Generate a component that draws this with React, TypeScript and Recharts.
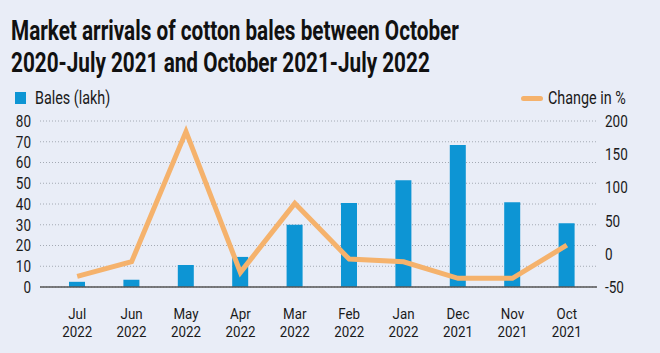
import { Bar, CartesianGrid, ComposedChart, Line, XAxis, YAxis } from "recharts";

const months = ["Jul", "Jun", "May", "Apr", "Mar", "Feb", "Jan", "Dec", "Nov", "Oct"];
const years = ["2022", "2022", "2022", "2022", "2022", "2022", "2022", "2021", "2021", "2021"];
const bales = [2.5, 3.5, 10.6, 14.5, 30, 40.5, 51.5, 68.4, 40.8, 30.7];
const changePct = [-34, -12, 184, -28, 76, -8, -12, -37, -37, 13];

const leftTicks = [0, 10, 20, 30, 40, 50, 60, 70, 80];
const rightTicks = [-50, 0, 50, 100, 150, 200];

const FONT = "'Roboto', 'DejaVu Sans', sans-serif";
const BG = "#e9edf7";
const BLUE = "#0d95d4";
const ORANGE = "#f5b26c";
const TEXT = "#1a1a1a";
// the reference uses a condensed face; squeeze Roboto horizontally
const SQUEEZE = 0.82;

const data = months.map((m, i) => ({
  key: `${m} ${years[i]}`,
  month: m,
  year: years[i],
  bales: bales[i],
  change: changePct[i],
}));

function MonthTick(props: any) {
  const { x, y, payload } = props;
  const row = data.find((d) => d.key === payload.value);
  return (
    <g transform={`translate(${x},${y}) scale(${SQUEEZE * 1.05},1)`}>
      <text x={0} y={24} textAnchor="middle" fill={TEXT} fontSize={15.5} fontFamily={FONT}>
        {row?.month}
      </text>
      <text x={0} y={42} textAnchor="middle" fill={TEXT} fontSize={15.5} fontFamily={FONT}>
        {row?.year}
      </text>
    </g>
  );
}

function ValueTick(props: any) {
  const { x, y, payload, textAnchor } = props;
  return (
    <g transform={`translate(${x},${y}) scale(${SQUEEZE},1)`}>
      <text x={0} y={0} dy="0.36em" textAnchor={textAnchor} fill={TEXT} fontSize={16.5} fontFamily={FONT}>
        {payload.value}
      </text>
    </g>
  );
}

export default function App() {
  return (
    <div style={{ position: "absolute", left: 0, top: 0, width: 660, height: 353, background: BG, fontFamily: FONT, overflow: "hidden" }}>
      <div
        style={{
          position: "absolute",
          left: 11,
          top: 15,
          fontSize: 28,
          lineHeight: "32px",
          fontWeight: 700,
          color: "#111",
          whiteSpace: "nowrap",
          transform: "scaleX(0.74)",
          transformOrigin: "left top",
        }}
      >
        Market arrivals of cotton bales between October
        <br />
        2020-July 2021 and October 2021-July 2022
      </div>
      <div style={{ position: "absolute", left: 15, top: 88, display: "flex", alignItems: "center", fontSize: 17.5, color: TEXT }}>
        <span style={{ display: "inline-block", width: 11, height: 12, background: BLUE, marginRight: 9 }} />
        <span style={{ display: "inline-block", transform: `scaleX(${SQUEEZE})`, transformOrigin: "left center", whiteSpace: "nowrap" }}>
          Bales (lakh)
        </span>
      </div>
      <div style={{ position: "absolute", left: 521, top: 88, display: "flex", alignItems: "center", fontSize: 17.5, color: TEXT }}>
        <span style={{ display: "inline-block", width: 22, height: 5, borderRadius: 3, background: ORANGE, marginRight: 5 }} />
        <span style={{ display: "inline-block", transform: `scaleX(${SQUEEZE})`, transformOrigin: "left center", whiteSpace: "nowrap" }}>
          Change in %
        </span>
      </div>
      <ComposedChart
        width={660}
        height={353}
        data={data}
        margin={{ top: 121, right: 0, bottom: 21, left: 0 }}
        style={{ position: "absolute", left: 0, top: 0 }}
      >
        <CartesianGrid vertical={false} yAxisId="left" stroke="#a4aab4" strokeDasharray="1 2" />
        <XAxis
          dataKey="key"
          height={45}
          padding={{ left: 10, right: 3 }}
          tick={<MonthTick />}
          tickLine={false}
          axisLine={{ stroke: "#555", strokeWidth: 1.5 }}
          interval={0}
        />
        <YAxis
          yAxisId="left"
          orientation="left"
          width={40}
          domain={[0, 80]}
          ticks={leftTicks}
          interval={0}
          tickLine={false}
          axisLine={false}
          tickSize={0}
          tickMargin={9}
          tick={<ValueTick />}
        />
        <YAxis
          yAxisId="right"
          orientation="right"
          width={63}
          domain={[-50, 200]}
          ticks={rightTicks}
          interval={0}
          tickLine={false}
          axisLine={false}
          tickSize={0}
          tickMargin={8}
          tick={<ValueTick />}
        />
        <Bar yAxisId="left" dataKey="bales" fill={BLUE} barSize={16} isAnimationActive={false} />
        <Line
          yAxisId="right"
          dataKey="change"
          stroke={ORANGE}
          strokeWidth={5}
          dot={false}
          type="linear"
          isAnimationActive={false}
        />
      </ComposedChart>
    </div>
  );
}
